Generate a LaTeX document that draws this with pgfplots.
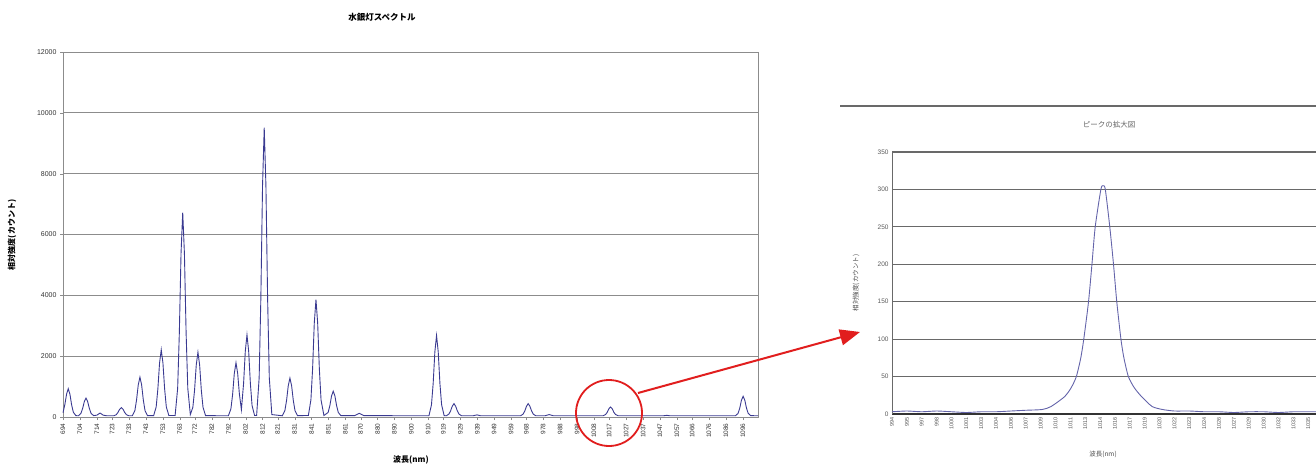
\documentclass[border=0pt]{standalone}
\usepackage{pgfplots}
\pgfplotsset{compat=1.18}
\usepackage{pgfplotstable}
\usepackage{fontspec}
\setmainfont{Liberation Sans}
\newfontfamily\jp{Noto Sans CJK JP}
\usetikzlibrary{arrows.meta}
\definecolor{specline}{RGB}{58,58,145}
\definecolor{zoomline}{RGB}{100,100,170}
\definecolor{gridgray}{RGB}{140,140,140}
\definecolor{griddark}{RGB}{105,105,105}
\definecolor{annred}{RGB}{225,30,30}

\pgfplotstableread{
x y
694.0 140
695.1 410
696.1 750
697.1 930
698.1 750
699.1 400
700.1 160
701.6 45
703.1 40
704.6 120
705.6 280
706.6 505
707.6 620
708.6 505
709.6 280
710.6 120
712.1 45
714.0 60
715.9 130
717.8 60
720.0 40
724.0 40
725.5 75
726.5 150
727.5 255
728.5 310
729.5 255
730.5 150
731.5 75
733.0 40
735.0 40
736.5 210
737.5 560
738.5 1055
739.5 1310
740.5 1055
741.5 560
742.5 210
744.0 45
747.6 45
749.1 330
750.1 925
751.1 1775
752.1 2210
753.1 1775
754.1 925
755.1 330
756.6 50
760.3 50
761.8 940
762.8 2770
763.8 5380
764.8 6720
765.8 5380
766.8 2770
767.8 940
769.3 80
770.8 320
771.8 880
772.8 1710
773.8 2130
774.8 1710
775.8 880
776.8 320
778.3 45
791.8 40
793.3 270
794.3 740
795.3 1430
796.3 1785
797.3 1430
798.3 760
799.5 240
800.8 1110
801.8 2160
802.8 2700
803.8 2160
804.8 1110
805.8 380
807.3 50
808.5 50
810.0 1290
811.0 3900
812.0 7610
813.0 9510
814.0 7610
815.0 3900
816.0 1290
817.5 80
823.7 40
825.2 210
826.2 540
827.2 1025
828.2 1280
829.2 1025
830.2 540
831.2 210
832.7 45
839.1 50
840.6 560
841.6 1580
842.6 3090
843.6 3860
844.6 3090
845.6 1580
846.6 560
848.3 50
850.8 150
851.8 370
852.8 690
853.8 850
854.8 690
855.8 370
856.8 150
858.3 45
866.5 45
869.2 120
872.0 45
910.4 40
911.9 400
912.9 1100
913.9 2140
914.9 2680
915.9 2140
916.9 1100
917.9 400
919.4 45
920.7 40
922.2 95
923.2 200
924.2 355
925.2 440
926.2 355
927.2 200
928.2 95
929.7 40
936.5 40
938.8 70
941.0 40
964.6 40
966.1 95
967.1 200
968.1 355
969.1 440
970.1 355
971.1 200
972.1 95
973.6 40
979.0 40
981.5 80
984.0 40
1013.3 40
1014.8 80
1015.8 150
1016.8 270
1017.8 330
1018.8 270
1019.8 150
1020.8 80
1022.3 40
1049.0 40
1051.0 55
1053.0 40
1091.7 40
1093.2 120
1094.2 290
1095.2 550
1096.2 680
1097.2 550
1098.2 290
1099.2 120
1100.7 45
1105.0 40
}\spectrum

\pgfplotstableread{
x y
0 3
1 4
2 3
3 4
4 3
5 2
6 3
7 3
8 4
9 5
10.1 6
10.7 10
11.6 23
12.05 35
12.4 50
12.7 75
12.9 100
13.22 150
13.45 200
13.67 250
14.05 300
14.2 305
14.35 300
14.65 250
14.9 200
15.12 150
15.4 100
15.6 75
15.9 50
16.3 35
16.8 23
17.5 10
18.2 6
19 4
20 4
21 3
22 3
23 2
24 3
25 3
26 2
27 3
28 3
29 3
29.6 3
}\peak

\begin{document}
\begin{tikzpicture}[x=1pt,y=1pt]
\useasboundingbox (0,0) rectangle (1316,466);

% left chart
\begin{axis}[
  at={(63pt,49pt)}, anchor=south west,
  scale only axis, width=695pt, height=365pt,
  xmin=694, xmax=1105, ymin=0, ymax=12000,
  xtick={694,704,714,723,733,743,753,763,772,782,792,802,812,821,831,841,851,861,870,880,890,900,910,919,929,939,949,959,968,978,988,998,1008,1017,1027,1037,1047,1057,1066,1076,1086,1096},
  ytick={0,2000,...,12000},
  ymajorgrids, grid style={gridgray, line width=0.8pt},
  axis line style={gridgray, line width=0.8pt},
  tick style={gridgray}, major tick length=3pt,
  xtick pos=bottom, ytick pos=left,
  tick align=outside,
  scaled y ticks=false,
  /pgf/number format/1000 sep={},
  /pgf/number format/assume math mode=true,
  xticklabel style={rotate=90, anchor=east, font=\fontsize{6.5}{7}\selectfont, text=black!80},
  yticklabel style={font=\fontsize{7}{8}\selectfont, text=black!80},
  clip=false,
]
\addplot[specline, line width=0.9pt] table[x=x,y=y] {\spectrum};
\end{axis}

\node[font=\jp\fontsize{8.5}{9}\selectfont\bfseries] at (382,449) {水銀灯スペクトル};
\node[font=\jp\fontsize{8}{9}\selectfont\bfseries, rotate=90] at (12,231) {相対強度(カウント)};
\node[font=\jp\fontsize{8}{9}\selectfont\bfseries] at (411,6) {波長(nm)};

% right chart frame line
\draw[griddark, line width=1.5pt] (840,360) -- (1316,360);

\begin{axis}[
  at={(892pt,52pt)}, anchor=south west,
  scale only axis, width=440pt, height=262pt,
  xmin=0, xmax=29.6, ymin=0, ymax=350,
  xtick={0,...,28},
  xticklabels={994,995,997,998,1000,1001,1003,1004,1006,1007,1009,1010,1011,1013,1014,1016,1017,1019,1020,1022,1023,1024,1026,1027,1029,1030,1032,1033,1035},
  ytick={0,50,...,350},
  ymajorgrids, grid style={griddark, line width=1.1pt},
  axis x line*=bottom, axis y line*=left,
  x axis line style={black!80, line width=2pt, -},
  y axis line style={griddark, line width=1pt, -},
  major tick length=0pt,
  /pgf/number format/1000 sep={},
  /pgf/number format/assume math mode=true,
  xticklabel style={rotate=90, anchor=east, font=\fontsize{5.5}{6}\selectfont, text=black!65},
  yticklabel style={font=\fontsize{6.5}{7}\selectfont, text=black!65},
  clip=false,
]
\addplot[zoomline, line width=0.9pt, smooth, tension=0.4] table[x=x,y=y] {\peak};
\end{axis}

\node[font=\jp\fontsize{7.5}{8}\selectfont, text=black!60] at (1109,341) {ピークの拡大図};
\node[font=\jp\fontsize{6.5}{7}\selectfont, text=black!70, rotate=90] at (856,183) {相対強度(カウント)};
\node[font=\jp\fontsize{6.5}{7}\selectfont\itshape, text=black!70] at (1103,12) {波長(nm)};

% annotation
\draw[annred, line width=1.8pt] (609,53) circle (33);
\draw[annred, line width=2pt, -{Triangle[length=20pt,width=16pt]}] (638,73) -- (860,134);
\end{tikzpicture}
\end{document}
